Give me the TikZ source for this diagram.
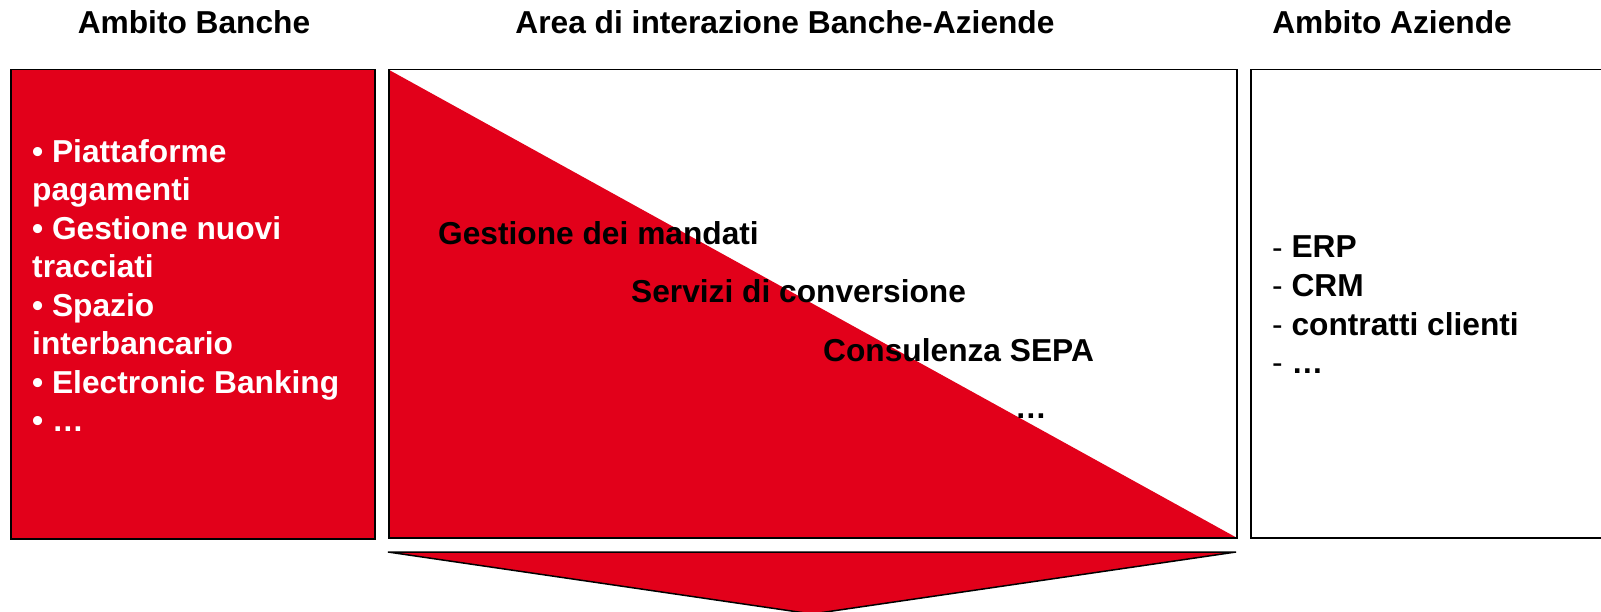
\documentclass[tikz,border=0pt]{standalone}
\usepackage{fontspec}
\setmainfont{Liberation Sans}
\definecolor{ured}{HTML}{E2001A}
\begin{document}
\begin{tikzpicture}[x=1pt,y=-1pt,
  panel/.style={draw=black, line width=1.5pt, inner sep=0pt, anchor=north west},
  txt/.style={font=\fontsize{31.7}{38.5}\selectfont\bfseries, inner sep=0pt, anchor=base west, align=left},
  title/.style={font=\fontsize{31.7}{38.5}\selectfont\bfseries, inner sep=0pt, anchor=base}]
\useasboundingbox (0,0) rectangle (1601,612);
% panels
\node[panel, fill=ured, minimum width=364pt, minimum height=469pt] (banche) at (10,69) {};
\node[panel, minimum width=848pt, minimum height=468pt,
  path picture={\fill[ured] (path picture bounding box.north west) -- (path picture bounding box.south east) -- (path picture bounding box.south west) -- cycle;}] (area) at (388,69) {};
\node[panel, minimum width=360pt, minimum height=468pt] (aziende) at (1250,69) {};
% titles
\node[title] (t1) at (194,34) {Ambito Banche};
\node[title] (t2) at (785,34) {Area di interazione Banche-Aziende};
\node[title] (t3) at (1392,34) {Ambito Aziende};
% left list (anchor = baseline of last line)
\node[txt, text=white] (lb) at (32,431.5) {• Piattaforme\\pagamenti\\• Gestione nuovi\\tracciati\\• Spazio\\interbancario\\• Electronic Banking\\• …};
% middle items
\node[txt] (m1) at (438,245) {Gestione dei mandati};
\node[txt] (m2) at (631,303) {Servizi di conversione};
\node[txt] (m3) at (823,361) {Consulenza SEPA};
\node[txt] (m4) at (1015,418) {…};
% right list (anchor = baseline of last line)
\node[txt] (rb) at (1272,373.5) {{\mdseries -} ERP\\{\mdseries -} CRM\\{\mdseries -} contratti clienti\\{\mdseries -} …};
% down arrow
\coordinate (aL) at (388,552);
\coordinate (aR) at (1236,552);
\coordinate (aT) at (812,614);
\draw[fill=ured, line width=1.5pt, line join=miter] (aL) -- (aR) -- (aT) -- cycle;
\end{tikzpicture}
\end{document}
